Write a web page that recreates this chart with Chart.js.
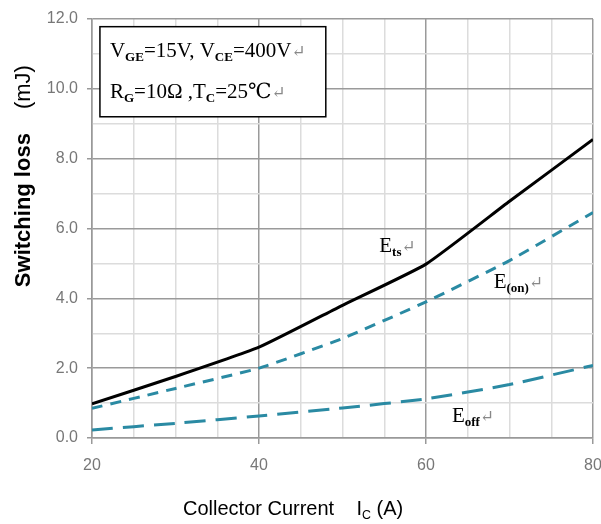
<!DOCTYPE html>
<html>
<head>
<meta charset="utf-8">
<script src="https://cdn.jsdelivr.net/npm/chart.js@4/dist/chart.umd.min.js"></script>
<style>
  html, body { margin: 0; padding: 0; background: #fff; }
  #wrap { width: 601px; height: 524px; }
</style>
</head>
<body>
<div id="wrap"><canvas id="dash"></canvas></div>
<script>
// collector current (A)
const correntes = [20, 30, 40, 50, 60, 70, 80];
// switching losses (mJ)
const perdaTs = [0.98, 1.76, 2.6, 3.8, 4.98, 6.78, 8.55];
const perdaOn = [0.85, 1.42, 2.0, 2.85, 3.9, 5.08, 6.46];
const perdaOff = [0.23, 0.42, 0.63, 0.86, 1.12, 1.53, 2.08];
// labelled ticks
const ticksX = [20, 40, 60, 80];
const ticksY = [0, 2, 4, 6, 8, 10, 12];

const teal = "#2a8aa3";

function pontos(valores) {
  return correntes.map((c, i) => ({ x: c, y: valores[i] }));
}

// draws text pieces: normal, subscript, gray return mark
function textoRico(ctx, x, y, partes, size, family) {
  let cx = x;
  partes.forEach((p) => {
    let s = size, dy = 0, cor = "#000", peso = p.bold ? "bold " : "";
    if (p.sub) { s = size * 0.62; dy = size * 0.2; }
    if (p.gray) { cor = "#888"; s = size * 0.8; }
    ctx.font = peso + s + "px " + family;
    ctx.fillStyle = cor;
    ctx.fillText(p.t, cx, y + dy);
    cx += ctx.measureText(p.t).width;
  });
  return cx - x;
}

const notas = {
  id: "notas",
  afterDraw(chart) {
    const { ctx, scales: { x, y } } = chart;
    ctx.save();
    ctx.textBaseline = "alphabetic";
    ctx.textAlign = "left";

    // condition box
    const x0 = x.getPixelForValue(20.95), x1 = x.getPixelForValue(48.0);
    const y0 = y.getPixelForValue(11.78), y1 = y.getPixelForValue(9.2);
    ctx.fillStyle = "#fff";
    ctx.fillRect(x0, y0, x1 - x0, y1 - y0);
    ctx.strokeStyle = "#000";
    ctx.lineWidth = 1.5;
    ctx.strokeRect(x0, y0, x1 - x0, y1 - y0);

    const serif = "'Liberation Serif', 'DejaVu Serif', serif";
    textoRico(ctx, x0 + 10, y0 + 30, [
      { t: "V" }, { t: "GE", sub: true, bold: true }, { t: "=15V, V" }, { t: "CE", sub: true, bold: true },
      { t: "=400V" }, { t: "\u21B5", gray: true }
    ], 21, serif);
    textoRico(ctx, x0 + 10, y0 + 71, [
      { t: "R" }, { t: "G", sub: true, bold: true }, { t: "=10\u03A9 ,T" }, { t: "C", sub: true, bold: true },
      { t: "=25\u2103" }, { t: "\u21B5", gray: true }
    ], 21, serif);

    // curve labels
    textoRico(ctx, x.getPixelForValue(54.4), y.getPixelForValue(5.33), [
      { t: "E" }, { t: "ts", sub: true, bold: true }, { t: "\u21B5", gray: true }
    ], 21, serif);
    textoRico(ctx, x.getPixelForValue(68.1), y.getPixelForValue(4.3), [
      { t: "E" }, { t: "(on)", sub: true, bold: true }, { t: "\u21B5", gray: true }
    ], 21, serif);
    textoRico(ctx, x.getPixelForValue(63.1), y.getPixelForValue(0.46), [
      { t: "E" }, { t: "off", sub: true, bold: true }, { t: "\u21B5", gray: true }
    ], 21, serif);

    // axis titles
    const sans = "'Liberation Sans', Arial, sans-serif";
    ctx.save();
    ctx.translate(30, y.getPixelForValue(7.5));
    ctx.rotate(-Math.PI / 2);
    ctx.fillStyle = "#000";
    ctx.font = "bold 22px " + sans;
    const w1 = ctx.measureText("Switching loss").width;
    ctx.font = "22px " + sans;
    const w2 = ctx.measureText("(mJ)").width;
    const gap = 24;
    let sx = -(w1 + gap + w2) / 2;
    ctx.font = "bold 22px " + sans;
    ctx.fillText("Switching loss", sx, 0);
    ctx.font = "22px " + sans;
    ctx.fillText("(mJ)", sx + w1 + gap, 0);
    ctx.restore();

    textoRico(ctx, x.getPixelForValue(30.9), 515, [
      { t: "Collector Current    I" }, { t: "C", sub: true }, { t: " (A)" }
    ], 20, sans);
    ctx.restore();
  }
};

const dash = document.getElementById("dash");

new Chart(dash, {
  type: "line",
  data: {
    datasets: [
      {
        label: "Ets",
        data: pontos(perdaTs),
        borderColor: "#000",
        borderWidth: 3,
        pointRadius: 0,
        tension: 0.15,
      },
      {
        label: "E(on)",
        data: pontos(perdaOn),
        borderColor: teal,
        borderWidth: 3,
        borderDash: [11, 8],
        pointRadius: 0,
        tension: 0.15,
      },
      {
        label: "Eoff",
        data: pontos(perdaOff),
        borderColor: teal,
        borderWidth: 3,
        borderDash: [21, 10],
        pointRadius: 0,
        tension: 0.15,
      },
    ],
  },
  options: {
    responsive: true,
    maintainAspectRatio: false,
    animation: false,
    layout: { padding: { top: 19, right: 8, bottom: 0, left: 0 } },
    scales: {
      x: {
        type: "linear",
        min: 20,
        max: 80,
        afterFit: (s) => { s.height = 86; s.paddingLeft = 0; s.paddingRight = 0; },
        border: { color: "#999", width: 1.5 },
        grid: {
          color: (c) => (ticksX.includes(c.tick.value) ? "#9a9a9a" : "#dcdcdc"),
          lineWidth: 1.5,
          tickColor: (c) => (ticksX.includes(c.tick.value) ? "#999" : "rgba(0,0,0,0)"),
          tickLength: 6,
        },
        ticks: {
          stepSize: 5,
          autoSkip: false,
          maxRotation: 0,
          padding: 12,
          color: "#777",
          font: { size: 16, family: "'Liberation Sans', Arial, sans-serif" },
          callback: (v) => (ticksX.includes(v) ? String(v) : ""),
        },
      },
      y: {
        min: 0,
        max: 12,
        afterFit: (s) => { s.width = 92; },
        border: { color: "#999", width: 1.5 },
        grid: {
          color: (c) => (ticksY.includes(c.tick.value) ? "#9a9a9a" : "#dcdcdc"),
          lineWidth: 1.5,
          tickColor: (c) => (ticksY.includes(c.tick.value) ? "#999" : "rgba(0,0,0,0)"),
          tickLength: 5,
        },
        ticks: {
          stepSize: 1,
          autoSkip: false,
          padding: 9,
          color: "#777",
          font: { size: 16, family: "'Liberation Sans', Arial, sans-serif" },
          callback: (v) => (ticksY.includes(v) ? v.toFixed(1) : ""),
        },
      },
    },
    plugins: {
      legend: { display: false },
      tooltip: { enabled: false },
    },
  },
  plugins: [notas],
});
</script>
</body>
</html>
